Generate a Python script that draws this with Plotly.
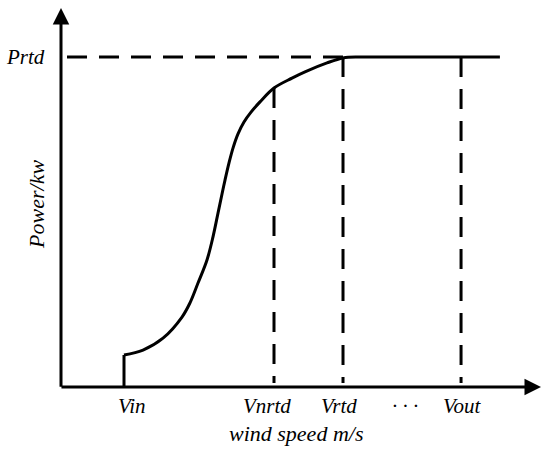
import plotly.graph_objects as go

# ---- data (arbitrary wind-speed units, power in p.u. of rated) ----
curve_speed = [3.0, 3.905, 4.857, 5.762, 6.143, 6.524, 6.952, 7.238, 7.476, 7.667, 7.810,
               8.0, 8.190, 8.429, 8.714, 9.048, 9.476, 10.143, 11.0, 11.619, 12.667,
               13.429, 14.238, 16.0, 18.5, 20.9]
curve_power = [0.097, 0.112, 0.148, 0.212, 0.255, 0.315, 0.385, 0.455, 0.527, 0.585, 0.627,
               0.679, 0.724, 0.767, 0.803, 0.833, 0.864, 0.906, 0.936, 0.955, 0.982,
               0.997, 1.0, 1.0, 1.0, 1.0]

v_in = 3.0
v_nrtd = 10.143
v_rtd = 13.429
v_out = 19.05
p_rtd = 1.0
p_cutin = 0.097
p_nrtd = 0.906

tick_labels = ["Vin", "Vnrtd", "Vrtd", "· · ·", "Vout"]
tick_label_pos = [3.38, 9.81, 13.24, 16.38, 19.14]
y_tick_label = "Prtd"
x_title = "wind speed m/s"
y_title = "Power/kw"

x_axis_end = 22.857
y_axis_end = 1.1485

FONT = "Liberation Serif"
DASH = "20px,12px"

fig = go.Figure()

# cut-in vertical step
fig.add_trace(go.Scatter(x=[v_in, v_in], y=[0, p_cutin], mode="lines",
                         line=dict(color="black", width=3), hoverinfo="skip"))
# power curve
fig.add_trace(go.Scatter(x=curve_speed, y=curve_power, mode="lines",
                         line=dict(color="black", width=3, shape="spline", smoothing=1.0),
                         hoverinfo="skip"))
# dashed guides
fig.add_trace(go.Scatter(x=[0.286, v_rtd], y=[p_rtd, p_rtd], mode="lines",
                         line=dict(color="black", width=3, dash=DASH), hoverinfo="skip"))
for xv, top in [(v_nrtd, p_nrtd), (v_rtd, p_rtd), (v_out, p_rtd)]:
    fig.add_trace(go.Scatter(x=[xv, xv], y=[top, 0.012], mode="lines",
                             line=dict(color="black", width=3, dash=DASH), hoverinfo="skip"))

annotations = []
# axes with arrows
annotations.append(dict(x=x_axis_end, y=0, ax=-0.05, ay=0, xref="x", yref="y",
                        axref="x", ayref="y", text="", showarrow=True, arrowhead=2,
                        arrowwidth=3, arrowsize=1.1, arrowcolor="black"))
annotations.append(dict(x=0, y=y_axis_end, ax=0, ay=-0.004, xref="x", yref="y",
                        axref="x", ayref="y", text="", showarrow=True, arrowhead=2,
                        arrowwidth=3, arrowsize=1.1, arrowcolor="black"))
for lab, xp in zip(tick_labels, tick_label_pos):
    annotations.append(dict(x=xp, y=-0.058, xref="x", yref="y", text=lab, showarrow=False,
                            font=dict(family=FONT, size=21, color="black", style="italic"),
                            xanchor="center", yanchor="middle"))
annotations.append(dict(x=-1.67, y=p_rtd, xref="x", yref="y", text=y_tick_label, showarrow=False,
                        font=dict(family=FONT, size=21, color="black", style="italic"),
                        xanchor="center", yanchor="middle"))
annotations.append(dict(x=11.19, y=-0.14, xref="x", yref="y", text=x_title, showarrow=False,
                        font=dict(family=FONT, size=22, color="black", style="italic"),
                        xanchor="center", yanchor="middle"))
annotations.append(dict(x=-1.14, y=0.552, xref="x", yref="y", text=y_title, showarrow=False,
                        textangle=-90,
                        font=dict(family=FONT, size=22, color="black", style="italic"),
                        xanchor="center", yanchor="middle"))

fig.update_layout(
    width=550, height=453,
    margin=dict(l=0, r=0, t=0, b=0),
    paper_bgcolor="white", plot_bgcolor="white",
    showlegend=False,
    hovermode=False,
    xaxis=dict(range=[-2.905, 23.286], visible=False, fixedrange=True),
    yaxis=dict(range=[-0.2, 1.17273], visible=False, fixedrange=True),
    annotations=annotations,
)

fig.write_html("out.html", config={"displayModeBar": False, "staticPlot": True},
               post_script="document.body.style.margin='0';document.body.style.overflow='hidden';")
